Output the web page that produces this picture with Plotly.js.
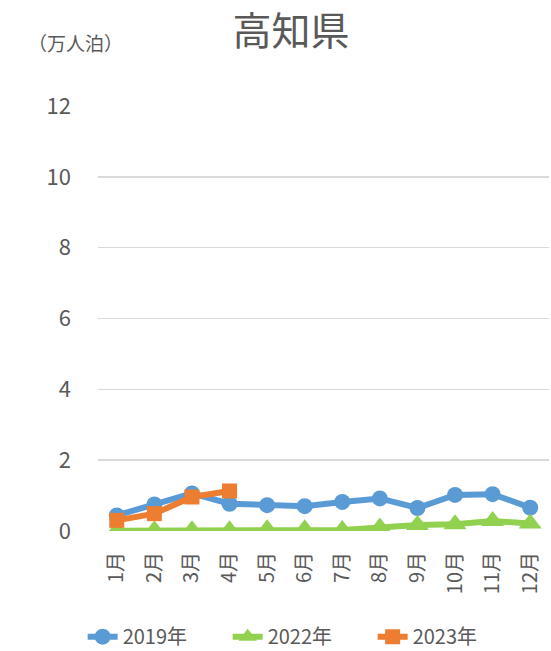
<!DOCTYPE html>
<html><head><meta charset="utf-8">
<script src="https://cdn.plot.ly/plotly-3.0.1.min.js"></script>
<style>body{margin:0;background:#fff}#c{width:551px;height:651px}</style>
</head><body><div id="c"></div>
<script>
const months = ["1月","2月","3月","4月","5月","6月","7月","8月","9月","10月","11月","12月"];
const v2019 = [0.44,0.75,1.06,0.77,0.73,0.70,0.82,0.92,0.65,1.02,1.04,0.66];
const v2022 = [0.01,0.02,0.02,0.02,0.05,0.05,0.03,0.10,0.17,0.19,0.28,0.21];
const v2023 = [0.30,0.49,0.96,1.13];
const yTicks = [0,2,4,6,8,10,12];
const font = '"Noto Sans CJK JP", "Noto Sans", sans-serif';
const traces = [
  {x: months, y: v2019, name: "2019年", mode: "lines+markers",
   line: {color: "#5B9BD5", width: 6}, marker: {symbol: "circle", size: 16, color: "#5B9BD5"}},
  {x: months, y: v2022, name: "2022年", mode: "lines+markers",
   line: {color: "#92D050", width: 6}, marker: {symbol: "triangle-up", size: 20, color: "#92D050"}},
  {x: months.slice(0, v2023.length), y: v2023, name: "2023年", mode: "lines+markers",
   line: {color: "#ED7D31", width: 6}, marker: {symbol: "square", size: 15, color: "#ED7D31"}}
];
const layout = {
  width: 551, height: 651,
  margin: {l: 98, r: 2, t: 106, b: 120},
  paper_bgcolor: "#fff", plot_bgcolor: "#fff",
  font: {family: font, color: "#595959", size: 20},
  title: {text: "高知県", font: {size: 39, color: "#595959", family: font}, x: 0.528, xanchor: "center", y: 0.952, yanchor: "middle"},
  xaxis: {type: "category", range: [-0.5, 11.5], tickangle: -90, showgrid: false, zeroline: false, showline: false, automargin: false,
          ticks: "", tickfont: {size: 20, color: "#595959"}, ticklabelstandoff: 16},
  yaxis: {range: [0, 12], tickvals: yTicks, ticktext: yTicks.map(String), showgrid: true, automargin: false,
          gridcolor: "#D9D9D9", gridwidth: 1.5, zeroline: false, showline: false, ticks: "",
          tickfont: {size: 22, color: "#595959"}, ticklabelstandoff: 26},
  showlegend: true,
  legend: {orientation: "h", xref: "container", x: 0.15, xanchor: "left", yref: "container", y: 0.022, yanchor: "middle",
           font: {size: 20, color: "#595959"}, entrywidth: 100, entrywidthmode: "pixels", tracegroupgap: 0},
  annotations: [{text: "（万人泊）", xref: "paper", yref: "paper", x: -0.16, y: 1.15,
                 xanchor: "left", yanchor: "middle", showarrow: false, font: {size: 19, color: "#595959"}}]
};
Plotly.newPlot("c", traces, layout, {displayModeBar: false, staticPlot: true});
</script></body></html>
